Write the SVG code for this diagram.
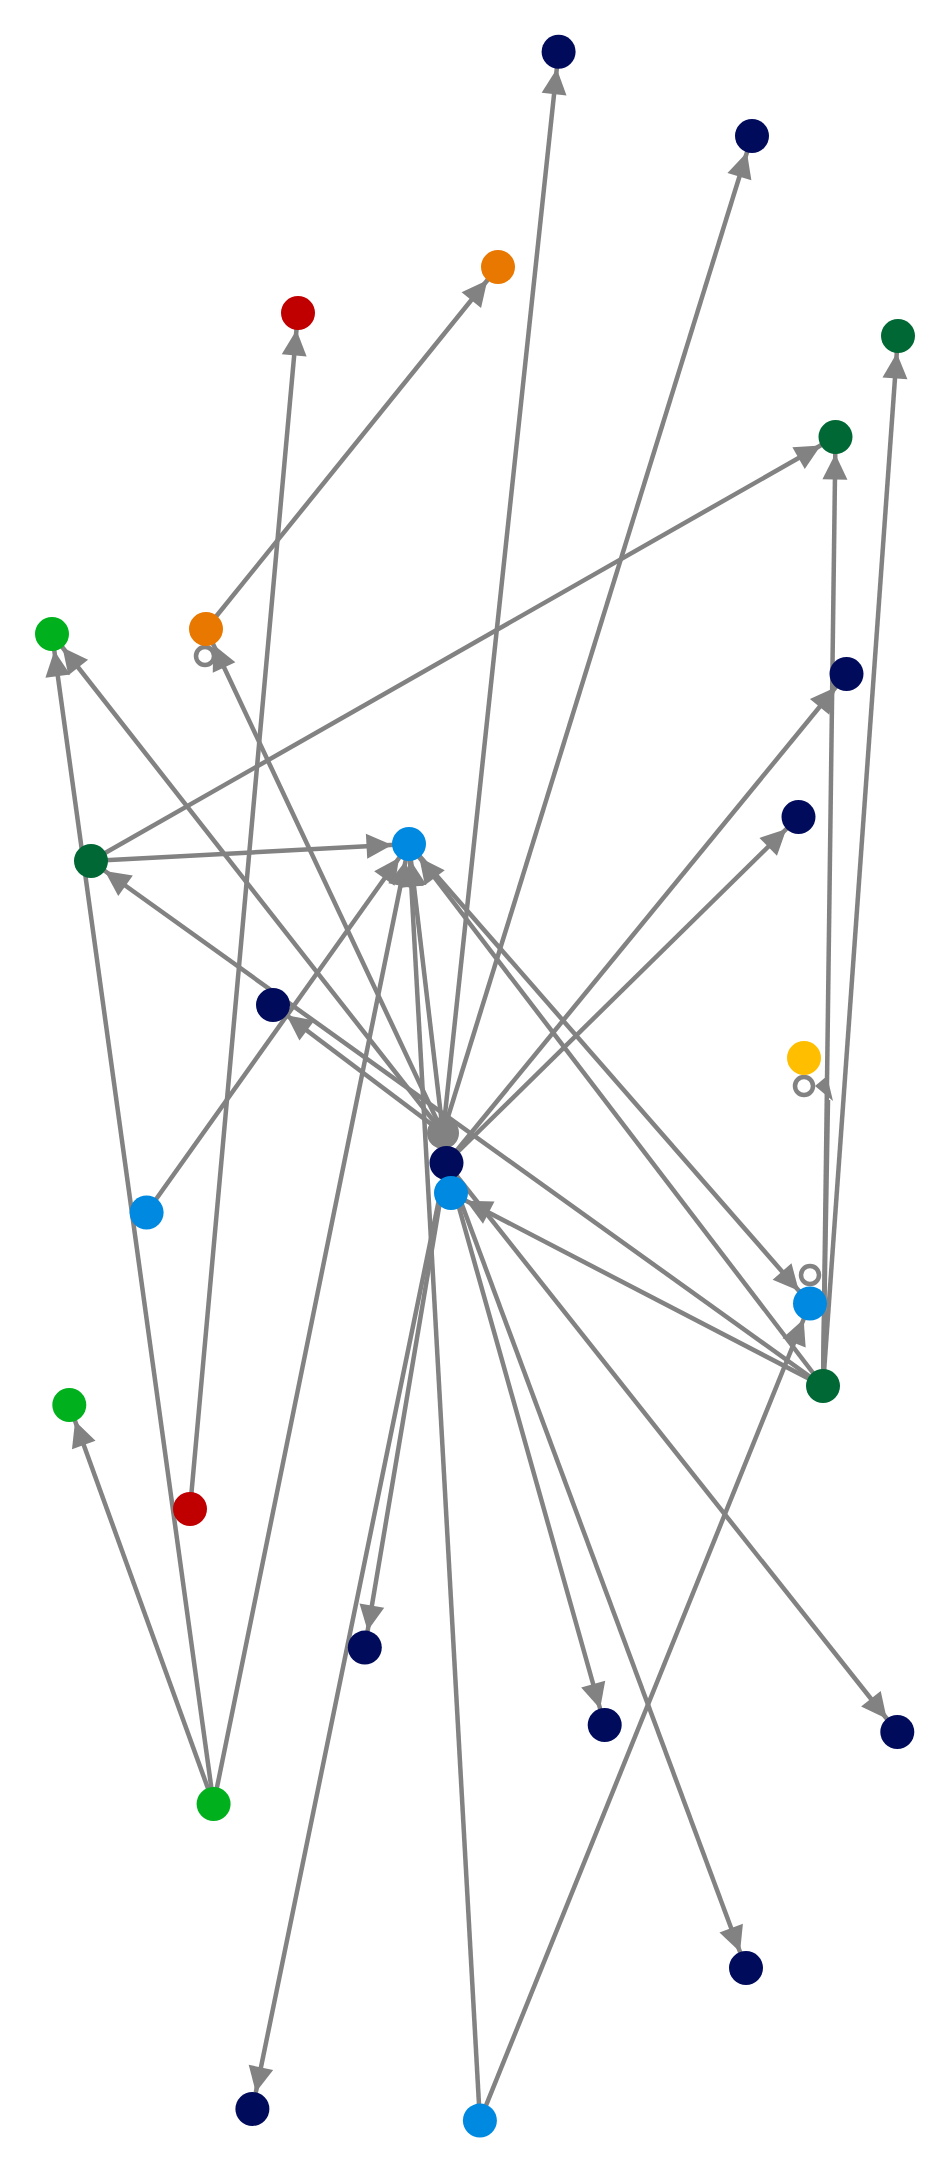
<svg xmlns="http://www.w3.org/2000/svg" width="950" height="2175" viewBox="0 0 950 2175">
<defs>
<style>
.e{stroke:#828282;stroke-width:4.5;fill:none;marker-end:url(#a)}
.p{stroke:#828282;stroke-width:4.5;fill:none}
.o{stroke:#828282;stroke-width:4.5;fill:#fff}
.navy{fill:#010b5b}.blue{fill:#0089e0}.dkg{fill:#006834}.grn{fill:#00b01d}.org{fill:#e87800}.red{fill:#c00000}.yel{fill:#ffbf00}.gry{fill:#828282}
</style>
<marker id="a" markerUnits="userSpaceOnUse" markerWidth="50" markerHeight="30" viewBox="0 -15 50 30" refX="42" refY="0" orient="auto" overflow="visible">
<path d="M0,-12.5 L25.5,0 L0,12.5 z" fill="#828282" transform="translate(-0.5,0)"/>
</marker>
</defs>
<rect width="950" height="2175" fill="#fff"/>
<g id="edges">
<line class="e" x1="443" y1="1133" x2="558.6" y2="51.8"/>
<line class="e" x1="443" y1="1133" x2="752" y2="136"/>
<line class="e" x1="206" y1="629" x2="498" y2="267"/>
<line class="e" x1="190" y1="1509" x2="298" y2="313"/>
<line class="e" x1="823" y1="1386" x2="898" y2="336"/>
<line class="e" x1="823" y1="1386" x2="835.5" y2="437"/>
<line class="e" x1="91" y1="861" x2="835.5" y2="437"/>
<line class="e" x1="213.6" y1="1804" x2="52" y2="634"/>
<line class="e" x1="443" y1="1133" x2="52" y2="634"/>
<line class="e" x1="443" y1="1133" x2="206" y2="629"/>
<line class="e" x1="91" y1="861" x2="409" y2="844"/>
<line class="e" x1="823" y1="1386" x2="91" y2="861"/>
<line class="e" x1="443" y1="1133" x2="273" y2="1005"/>
<line class="e" x1="146.6" y1="1212.5" x2="409" y2="844"/>
<line class="e" x1="213.6" y1="1804" x2="409" y2="844"/>
<line class="e" x1="479.9" y1="2120.6" x2="409" y2="844"/>
<line class="e" x1="443" y1="1133" x2="409" y2="844"/>
<line class="e" x1="823" y1="1386" x2="409" y2="844"/>
<line class="e" x1="409" y1="844" x2="810" y2="1303.5"/>
<line class="e" x1="479.9" y1="2120.6" x2="810" y2="1303.5"/>
<line class="e" x1="823" y1="1386" x2="451" y2="1193"/>
<path class="p" d="M823,1386 L828,1100"/>
<polygon points="815,1086 827,1076 833,1101" fill="#828282"/>
<line class="e" x1="446.5" y1="1163" x2="846.5" y2="674"/>
<line class="e" x1="446.5" y1="1163" x2="798.5" y2="817"/>
<line class="e" x1="446.5" y1="1163" x2="364.8" y2="1647.6"/>
<line class="e" x1="446.5" y1="1163" x2="252.4" y2="2109"/>
<line class="e" x1="446.5" y1="1163" x2="604.7" y2="1725"/>
<line class="e" x1="446.5" y1="1163" x2="746" y2="1968"/>
<line class="e" x1="446.5" y1="1163" x2="897.3" y2="1732"/>
<line class="e" x1="213.6" y1="1804" x2="69.3" y2="1405"/>
<circle class="o" cx="205" cy="656" r="9"/>
<circle class="o" cx="804" cy="1086" r="9"/>
<circle class="o" cx="810" cy="1275" r="9"/>
</g>
<g id="n1"><circle class="navy" cx="558.6" cy="51.8" r="17"/></g>
<g id="n2"><circle class="navy" cx="752" cy="136" r="17"/></g>
<g id="n3"><circle class="org" cx="498" cy="267" r="17"/></g>
<g id="n4"><circle class="red" cx="298" cy="313" r="17"/></g>
<g id="n5"><circle class="dkg" cx="898" cy="336" r="17"/></g>
<g id="n6"><circle class="dkg" cx="835.5" cy="437" r="17"/></g>
<g id="n7"><circle class="grn" cx="52" cy="634" r="17"/></g>
<g id="n8"><circle class="org" cx="206" cy="629" r="17"/></g>
<g id="n9"><circle class="navy" cx="846.5" cy="674" r="17"/></g>
<g id="n10"><circle class="navy" cx="798.5" cy="817" r="17"/></g>
<g id="n11"><circle class="dkg" cx="91" cy="861" r="17"/></g>
<g id="n12"><circle class="blue" cx="409" cy="844" r="17"/></g>
<g id="n13"><circle class="navy" cx="273" cy="1005" r="17"/></g>
<g id="n14"><circle class="yel" cx="804" cy="1058" r="17"/></g>
<g id="hub"><circle class="gry" cx="443" cy="1133" r="16"/></g>
<g id="n15"><circle class="navy" cx="446.5" cy="1163" r="17"/></g>
<g id="n16"><circle class="blue" cx="451" cy="1193" r="17"/></g>
<g id="n17"><circle class="blue" cx="146.6" cy="1212.5" r="17"/></g>
<g id="n18"><circle class="blue" cx="810" cy="1303.5" r="17"/></g>
<g id="n19"><circle class="dkg" cx="823" cy="1386" r="17"/></g>
<g id="n20"><circle class="grn" cx="69.3" cy="1405" r="17"/></g>
<g id="n21"><circle class="red" cx="190" cy="1509" r="17"/></g>
<g id="n22"><circle class="navy" cx="364.8" cy="1647.6" r="17"/></g>
<g id="n23"><circle class="navy" cx="604.7" cy="1725" r="17"/></g>
<g id="n24"><circle class="navy" cx="897.3" cy="1732" r="17"/></g>
<g id="n25"><circle class="grn" cx="213.6" cy="1804" r="17"/></g>
<g id="n26"><circle class="navy" cx="746" cy="1968" r="17"/></g>
<g id="n27"><circle class="navy" cx="252.4" cy="2109" r="17"/></g>
<g id="n28"><circle class="blue" cx="479.9" cy="2120.6" r="17"/></g>
</svg>
